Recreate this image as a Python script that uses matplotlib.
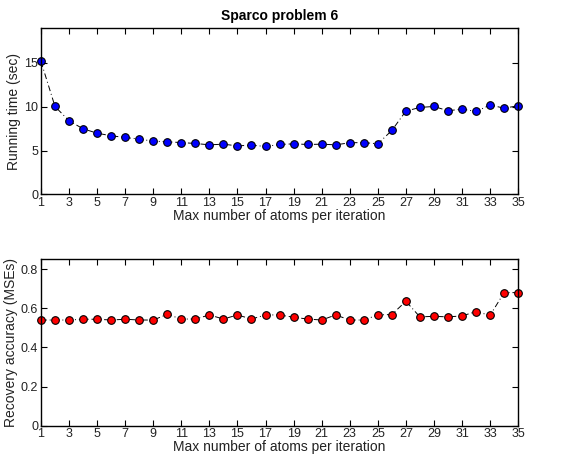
import numpy as np
import matplotlib
matplotlib.use("Agg")
import matplotlib.pyplot as plt

# -----------------------------
# DATA
# -----------------------------
atoms = list(range(1, 36))
running_time = [15.18, 10.03, 8.39, 7.48, 6.98, 6.68, 6.49, 6.30, 6.07, 5.99,
                5.91, 5.80, 5.65, 5.72, 5.53, 5.61, 5.46, 5.69, 5.76, 5.69,
                5.72, 5.65, 5.88, 5.91, 5.76, 7.29, 9.50, 9.92, 10.03, 9.54,
                9.73, 9.46, 10.19, 9.84, 10.11]
mse = [0.540, 0.540, 0.540, 0.544, 0.544, 0.540, 0.544, 0.540, 0.540, 0.569,
       0.545, 0.545, 0.566, 0.545, 0.566, 0.545, 0.566, 0.566, 0.554, 0.545,
       0.540, 0.566, 0.540, 0.540, 0.566, 0.568, 0.636, 0.556, 0.559, 0.556,
       0.561, 0.583, 0.564, 0.680, 0.680]
xticks = list(range(1, 36, 2))

plt.rcParams["font.family"] = ["Liberation Sans", "DejaVu Sans"]

fig = plt.figure(figsize=(5.77, 4.62), dpi=100)
ax1 = fig.add_axes([0.071, 0.5795, 0.827, 0.36])
ax2 = fig.add_axes([0.071, 0.0786, 0.827, 0.36])


def style(ax):
    ax.set_xlim(1, 35)
    ax.set_xticks(xticks)
    ax.tick_params(direction="in", top=True, right=True, labelsize=9,
                   length=4, width=0.8, pad=2, labelcolor="#222222")
    for s in ax.spines.values():
        s.set_linewidth(1.0)
    ax.set_xlabel("Max number of atoms per iteration", fontsize=10,
                  labelpad=0, color="#222222")


ax1.plot(atoms, running_time, linestyle=(0, (6, 3, 1, 3)), color="black",
         linewidth=0.7, marker="o", markersize=5.5, markerfacecolor="#0000ff",
         markeredgecolor="black", markeredgewidth=0.8, clip_on=False)
style(ax1)
ax1.set_ylim(0, 19)
ax1.set_yticks([0, 5, 10, 15])
ax1.set_ylabel("Running time (sec)", fontsize=10, labelpad=2, color="#222222")
ax1.set_title("Sparco problem 6", fontsize=10, fontweight="bold", pad=6)

ax2.plot(atoms, mse, linestyle=(0, (6, 3, 1, 3)), color="black",
         linewidth=0.7, marker="o", markersize=5.5, markerfacecolor="#ff0000",
         markeredgecolor="black", markeredgewidth=0.8, clip_on=False)
style(ax2)
ax2.set_ylim(0, 0.85)
ax2.set_yticks([0, 0.2, 0.4, 0.6, 0.8])
ax2.set_yticklabels(["0", "0.2", "0.4", "0.6", "0.8"])
ax2.set_ylabel("Recovery accuracy (MSEs)", fontsize=10, labelpad=2,
               color="#222222")

fig.savefig("out.png", dpi=100)
